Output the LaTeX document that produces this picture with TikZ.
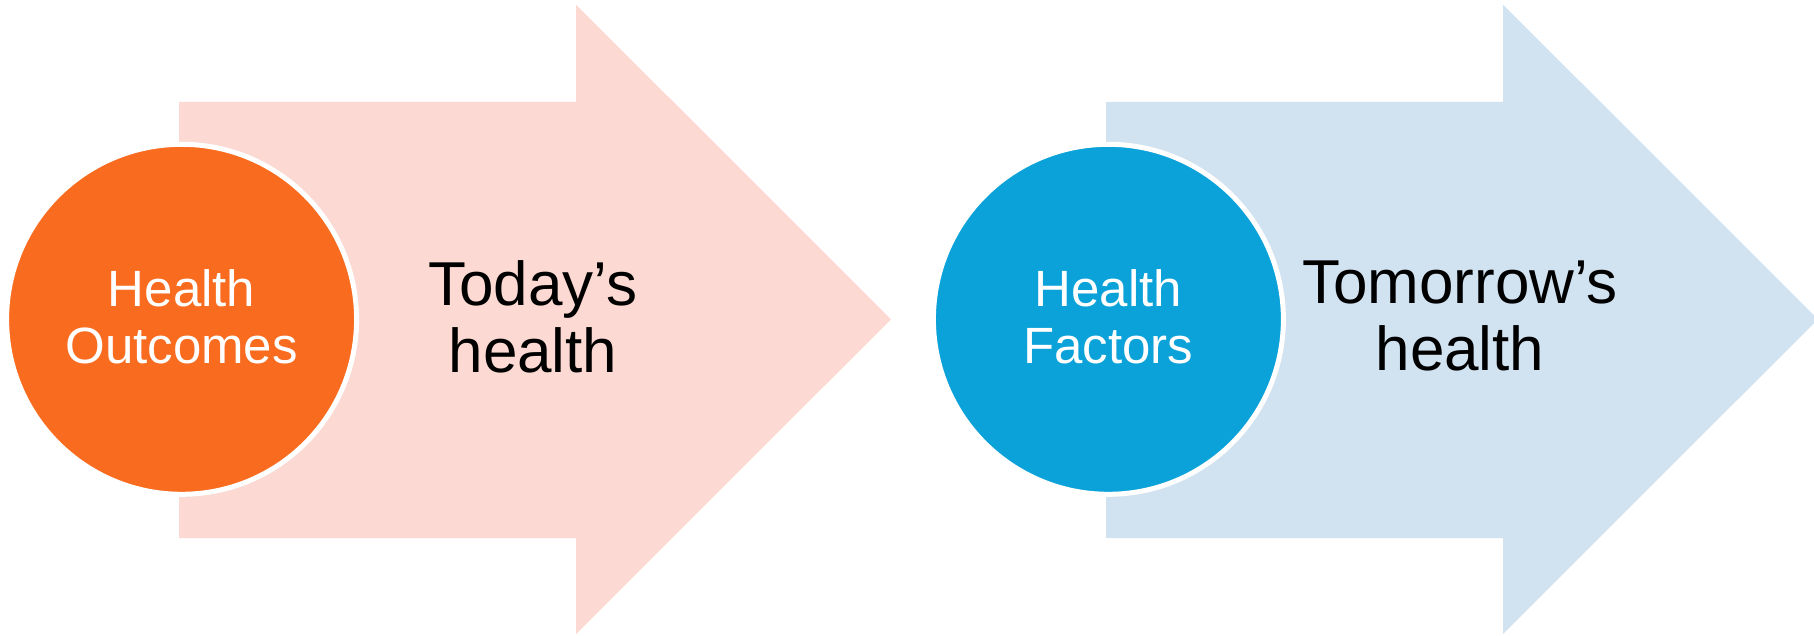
\documentclass[tikz,border=0pt]{standalone}
\usepackage{fontspec}
\setmainfont{Liberation Sans}
\definecolor{orangeC}{HTML}{F96B1E}
\definecolor{pinkC}{HTML}{FCD9D2}
\definecolor{blueC}{HTML}{0AA2D9}
\definecolor{lblueC}{HTML}{D1E2F1}
\begin{document}
\begin{tikzpicture}[x=1pt,y=-1pt,
  disc/.style={circle,minimum size=350pt,inner sep=0pt,draw=white,line width=5pt},
  disclabel/.style={text=white,align=center,font=\fontsize{51}{57}\selectfont},
  arrowlabel/.style={text=black,align=center,font=\fontsize{62}{67}\selectfont}]
\useasboundingbox (0,0) rectangle (1814,636);
% left arrow
\fill[pinkC] (179,102) -- (576,102) -- (576,4.6) -- (891,319.3) -- (576,634) -- (576,538) -- (179,538) -- cycle;
% right arrow
\fill[lblueC] (1106,102) -- (1503,102) -- (1503,4.6) -- (1818,319.3) -- (1503,634) -- (1503,538) -- (1106,538) -- cycle;
\node[disc,fill=orangeC] (c1) at (181.6,319.3) {};
\node[disc,fill=blueC] (c2) at (1108.4,319.3) {};
\node[disclabel] (t1) at (c1.center) [yshift=3pt] {Health\\Outcomes};
\node[disclabel] (t2) at (c2.center) [yshift=3pt] {Health\\Factors};
\node[arrowlabel] (a1) at (533,317) {Today’s\\health};
\node[arrowlabel] (a2) at (1460,316) {Tomorrow’s\\health};
\end{tikzpicture}
\end{document}
